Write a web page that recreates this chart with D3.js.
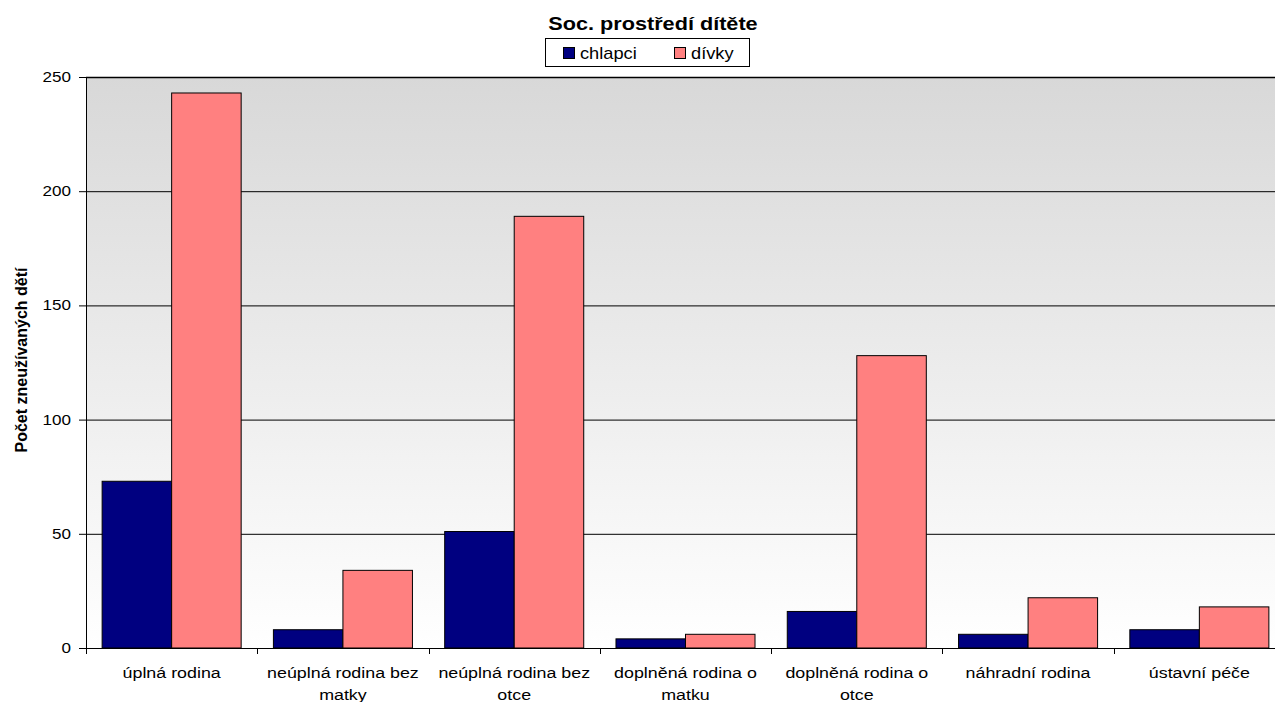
<!DOCTYPE html>
<html>
<head>
<meta charset="utf-8">
<script src="https://cdn.jsdelivr.net/npm/d3@7"></script>
<style>
  body { margin: 0; background: #fff; overflow: hidden; }
  text { font-family: "Liberation Sans", Arial, sans-serif; }
</style>
</head>
<body>
<svg id="chart"></svg>
<script>
const categories = [
  ["úplná rodina"],
  ["neúplná rodina bez", "matky"],
  ["neúplná rodina bez", "otce"],
  ["doplněná rodina o", "matku"],
  ["doplněná rodina o", "otce"],
  ["náhradní rodina"],
  ["ústavní péče"]
];
const seriesNames = ["chlapci", "dívky"];
const chlapci = [73, 8, 51, 4, 16, 6, 8];
const divky = [243, 34, 189, 6, 128, 22, 18];
const yTicks = [0, 50, 100, 150, 200, 250];
const colors = ["#000080", "#ff8080"];

const data = categories.map((c, i) => ({ key: c.join(" "), lines: c, values: [chlapci[i], divky[i]] }));

const svg = d3.select("#chart")
  .attr("width", 1275)
  .attr("height", 702);

// plot runs past the right edge of the picture, like in the original
const margin = { top: 77, right: -10, bottom: 54, left: 86 };
const width = +svg.attr("width") - margin.left - margin.right;
const height = +svg.attr("height") - margin.top - margin.bottom;

const x0 = d3.scaleBand()
  .domain(data.map(d => d.key))
  .range([0, width])
  .padding(0);

const x1 = d3.scaleBand()
  .domain(seriesNames)
  .range([0, x0.bandwidth()])
  .paddingInner(0)
  .paddingOuter(0.232);

const y = d3.scaleLinear()
  .domain([0, 250])
  .range([height, 0]);

// background gradient
const defs = svg.append("defs");
const grad = defs.append("linearGradient")
  .attr("id", "bg")
  .attr("x1", 0).attr("y1", 0).attr("x2", 0).attr("y2", 1);
grad.append("stop").attr("offset", "0%").attr("stop-color", "#d8d8d8");
grad.append("stop").attr("offset", "100%").attr("stop-color", "#ffffff");

const g = svg.append("g")
  .attr("transform", `translate(${margin.left},${margin.top})`);

g.append("rect")
  .attr("width", width)
  .attr("height", height)
  .attr("fill", "url(#bg)");

// gridlines
g.selectAll(".grid")
  .data(yTicks.filter(t => t > 0))
  .enter()
  .append("line")
  .attr("x1", 0)
  .attr("x2", width)
  .attr("y1", d => y(d) + 0.5)
  .attr("y2", d => y(d) + 0.5)
  .attr("stroke", "#000")
  .attr("stroke-width", d => d === 250 ? 1.5 : 1);

// bars
const groups = g.selectAll(".cat")
  .data(data)
  .enter()
  .append("g")
  .attr("transform", d => `translate(${x0(d.key)},0)`);

groups.selectAll("rect")
  .data(d => d.values.map((v, i) => ({ s: seriesNames[i], v, i })))
  .enter()
  .append("rect")
  .attr("x", d => x1(d.s))
  .attr("y", d => y(d.v))
  .attr("width", x1.bandwidth())
  .attr("height", d => height - y(d.v))
  .attr("fill", d => colors[d.i])
  .attr("stroke", "#000")
  .attr("stroke-width", 1);

// y axis
const yAxis = g.append("g")
  .call(d3.axisLeft(y).tickValues(yTicks).tickSize(7).tickPadding(0));
yAxis.select(".domain").attr("d", `M0.5,0V${height}`).attr("stroke", "#000");
yAxis.selectAll("text")
  .style("font-size", "14px")
  .attr("fill", "#000")
  .attr("x", 0)
  .attr("transform", "translate(-15,0) scale(1.22,1)");

// x axis
const xAxis = g.append("g")
  .attr("transform", `translate(0,${height})`);
xAxis.append("line")
  .attr("x1", 0).attr("x2", width)
  .attr("y1", 0.5).attr("y2", 0.5)
  .attr("stroke", "#000");
xAxis.selectAll(".tick")
  .data(data.map(d => x0(d.key)).concat([width]))
  .enter()
  .append("line")
  .attr("x1", d => Math.round(d) + 0.5)
  .attr("x2", d => Math.round(d) + 0.5)
  .attr("y1", 0)
  .attr("y2", 6)
  .attr("stroke", "#000");

const labels = xAxis.selectAll(".lbl")
  .data(data)
  .enter()
  .append("text")
  .attr("transform", d => `translate(${x0(d.key) + x0.bandwidth() / 2},30) scale(1.19,1)`)
  .attr("text-anchor", "middle")
  .style("font-size", "15px")
  .attr("fill", "#000");
labels.selectAll("tspan")
  .data(d => d.lines)
  .enter()
  .append("tspan")
  .attr("x", 0)
  .attr("dy", (d, i) => i === 0 ? 0 : 22)
  .text(d => d);

// y axis title
svg.append("text")
  .attr("transform", "translate(27, 360) rotate(-90)")
  .attr("text-anchor", "middle")
  .style("font-size", "16px")
  .style("font-weight", "bold")
  .text("Počet zneužívaných dětí");

// title
svg.append("text")
  .attr("transform", "translate(653,30) scale(1.14,1)")
  .attr("text-anchor", "middle")
  .style("font-size", "19px")
  .style("font-weight", "bold")
  .text("Soc. prostředí dítěte");

// legend
const legend = svg.append("g").attr("transform", "translate(545,38)");
legend.append("rect")
  .attr("x", 0.5).attr("y", 0.5)
  .attr("width", 204).attr("height", 28)
  .attr("fill", "#fff")
  .attr("stroke", "#000");
const legendX = [18, 129];
seriesNames.forEach((s, i) => {
  legend.append("rect")
    .attr("x", legendX[i] + 0.5).attr("y", 9.5)
    .attr("width", 11).attr("height", 11)
    .attr("fill", colors[i])
    .attr("stroke", "#000");
  legend.append("text")
    .attr("transform", `translate(${legendX[i] + 17},21) scale(1.14,1)`)
    .style("font-size", "16px")
    .text(s);
});
</script>
</body>
</html>
